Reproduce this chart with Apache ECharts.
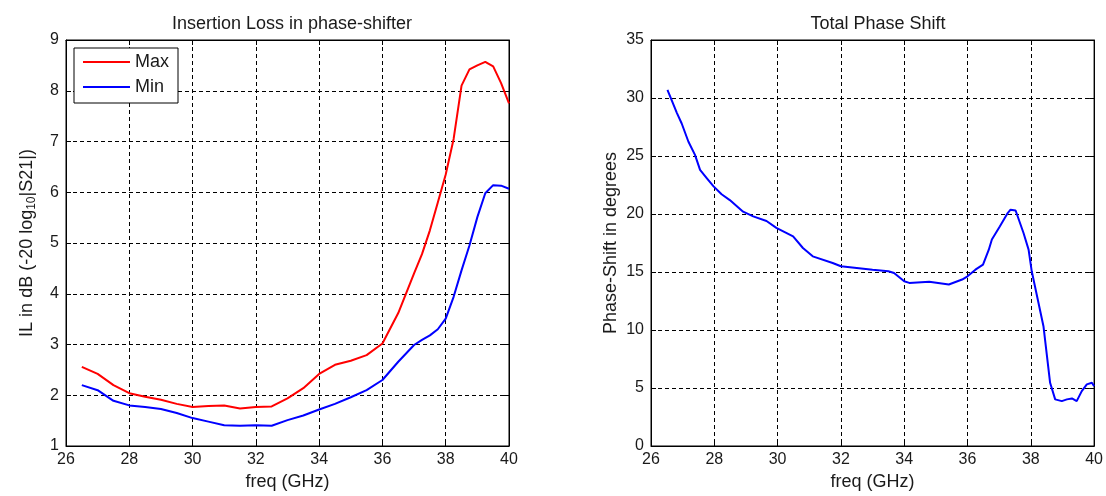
<!DOCTYPE html>
<html>
<head>
<meta charset="utf-8">
<script src="https://cdn.jsdelivr.net/npm/echarts@6/dist/echarts.min.js"></script>
<style>html,body{margin:0;padding:0;background:#fff;}#c{width:1106px;height:496px;}</style>
</head>
<body>
<div id="c"></div>
<script>
// ---- Data ----
const ilFreq = [26.5,27,27.5,28,28.5,29,29.5,30,30.5,31,31.5,32,32.5,33,33.5,34,34.5,35,35.5,36,36.5,37,37.25,37.5,37.75,38,38.25,38.5,38.75,39,39.25,39.5,39.75,40];
const ilMax  = [2.56,2.42,2.2,2.04,1.97,1.91,1.83,1.77,1.79,1.8,1.74,1.77,1.78,1.94,2.14,2.42,2.6,2.68,2.79,3.02,3.62,4.4,4.78,5.25,5.8,6.35,7.05,8.1,8.42,8.5,8.57,8.48,8.15,7.75];
const ilMin  = [2.2,2.1,1.89,1.8,1.77,1.73,1.65,1.55,1.48,1.41,1.4,1.41,1.4,1.51,1.6,1.72,1.83,1.96,2.1,2.3,2.66,2.99,3.09,3.18,3.3,3.51,3.94,4.46,4.95,5.51,5.98,6.14,6.13,6.07];

const psFreq  = [26.52,26.82,26.97,27.18,27.39,27.55,27.76,27.97,28.23,28.49,28.91,29.23,29.65,29.96,30.49,30.8,31.11,31.74,32.0,32.5,33.0,33.5,33.68,34.0,34.16,34.79,35.41,35.83,36.0,36.25,36.49,36.67,36.77,37.02,37.27,37.36,37.52,37.77,37.93,38.03,38.4,38.61,38.77,38.98,39.14,39.3,39.45,39.61,39.77,39.93,40.0];
const psShift = [30.7,28.7,27.8,26.25,25.1,23.8,23.1,22.4,21.7,21.2,20.2,19.8,19.4,18.8,18.07,17.07,16.35,15.78,15.5,15.35,15.2,15.06,14.92,14.2,14.06,14.15,13.92,14.35,14.63,15.2,15.64,16.9,17.8,18.93,20.08,20.37,20.3,18.36,16.93,15.06,10.33,5.45,4.02,3.87,4.02,4.1,3.87,4.73,5.31,5.45,5.16];

const titles = ['Insertion Loss in phase-shifter', 'Total Phase Shift'];
const xName = 'freq (GHz)';
const psName = 'Phase-Shift in degrees';

// ---- Chart ----
const pair = (xs, ys) => xs.map((x, i) => [x, ys[i]]);
const FONT = "'Liberation Sans', Arial, Helvetica, sans-serif";
const TXT = '#1a1a1a';

function xAx(grid, pos, labels) {
  return {
    type: 'value', gridIndex: grid, position: pos, min: 26, max: 40, interval: 2,
    name: labels ? xName : '', nameLocation: 'middle', nameGap: 27,
    nameTextStyle: {fontFamily: FONT, fontSize: 18, color: TXT},
    axisLine: {show: true, onZero: false, lineStyle: {color: '#000', width: 1}},
    axisTick: {show: true, inside: true, length: 5, lineStyle: {color: '#000'}},
    axisLabel: {show: labels, fontFamily: FONT, fontSize: 16, color: TXT, margin: 6},
    splitLine: {show: labels, lineStyle: {color: '#000', type: [4, 3], width: 1}}
  };
}
function yAx(grid, pos, labels, min, max, interval, name, nameTS, gap) {
  return {
    type: 'value', gridIndex: grid, position: pos, min: min, max: max, interval: interval,
    name: labels ? name : '', nameLocation: 'middle', nameGap: gap,
    nameTextStyle: nameTS,
    axisLine: {show: true, onZero: false, lineStyle: {color: '#000', width: 1}},
    axisTick: {show: true, inside: true, length: 5, lineStyle: {color: '#000'}},
    axisLabel: {show: labels, fontFamily: FONT, fontSize: 16, color: TXT, margin: 7},
    splitLine: {show: labels, lineStyle: {color: '#000', type: [4, 3], width: 1}}
  };
}

const ilNameTS = {
  fontFamily: FONT, fontSize: 18, color: TXT,
  rich: {
    n: {fontFamily: FONT, fontSize: 18, color: TXT, lineHeight: 22},
    s: {fontFamily: FONT, fontSize: 12, color: TXT, lineHeight: 12, verticalAlign: 'bottom'}
  }
};
const psNameTS = {fontFamily: FONT, fontSize: 18, color: TXT};

const chart = echarts.init(document.getElementById('c'), null, {renderer: 'canvas'});
chart.setOption({
  backgroundColor: '#fff',
  animation: false,
  title: [
    {text: titles[0], left: 287, top: 10, textAlign: 'center', textStyle: {fontFamily: FONT, fontSize: 18, fontWeight: 'normal', color: TXT}},
    {text: titles[1], left: 873, top: 10, textAlign: 'center', textStyle: {fontFamily: FONT, fontSize: 18, fontWeight: 'normal', color: TXT}}
  ],
  legend: {
    data: ['Max', 'Min'], selectedMode: false, orient: 'vertical', icon: 'rect',
    left: 74, top: 48, padding: [4, 9, 6, 9], itemGap: 5, itemWidth: 47, itemHeight: 2,
    borderColor: '#000', borderWidth: 1, borderRadius: 0, backgroundColor: '#fff',
    textStyle: {fontFamily: FONT, fontSize: 18, color: TXT, lineHeight: 20}
  },
  grid: [
    {left: 66, top: 40, width: 443, height: 406, show: true, borderColor: '#000', borderWidth: 1, backgroundColor: '#fff'},
    {left: 651, top: 40, width: 445, height: 407, show: true, borderColor: '#000', borderWidth: 1, backgroundColor: '#fff'}
  ],
  xAxis: [xAx(0, 'bottom', true), xAx(1, 'bottom', true), xAx(0, 'top', false), xAx(1, 'top', false)],
  yAxis: [
    yAx(0, 'left', true, 1, 9, 1, '{n|IL in dB (-20 log}{s|10}{n||S21|)}', ilNameTS, 28),
    yAx(1, 'left', true, 0, 35, 5, psName, psNameTS, 31),
    yAx(0, 'right', false, 1, 9, 1, '', ilNameTS, 0),
    yAx(1, 'right', false, 0, 35, 5, '', psNameTS, 0)
  ],
  series: [
    {name: 'Max', type: 'line', xAxisIndex: 0, yAxisIndex: 0, data: pair(ilFreq, ilMax), symbol: 'none', smooth: false, lineStyle: {color: '#ff0000', width: 2}, itemStyle: {color: '#ff0000'}},
    {name: 'Min', type: 'line', xAxisIndex: 0, yAxisIndex: 0, data: pair(ilFreq, ilMin), symbol: 'none', smooth: false, lineStyle: {color: '#0000ff', width: 2}, itemStyle: {color: '#0000ff'}},
    {name: 'Phase', type: 'line', xAxisIndex: 1, yAxisIndex: 1, data: pair(psFreq, psShift), symbol: 'none', smooth: false, lineStyle: {color: '#0000ff', width: 2}, itemStyle: {color: '#0000ff'}}
  ]
});
</script>
</body>
</html>
